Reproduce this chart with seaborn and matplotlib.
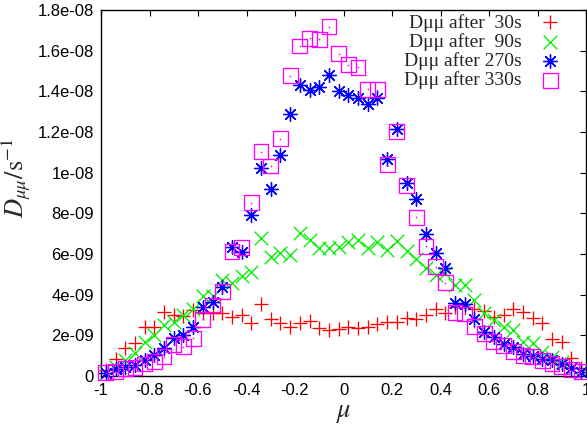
import matplotlib
matplotlib.use("Agg")
import matplotlib.pyplot as plt
import seaborn as sns
import pandas as pd

# mu bin centres
mu = [-0.98, -0.94, -0.90, -0.86, -0.82, -0.78, -0.74, -0.70, -0.66, -0.62,
      -0.58, -0.54, -0.50, -0.46, -0.42, -0.38, -0.34, -0.30, -0.26, -0.22,
      -0.18, -0.14, -0.10, -0.06, -0.02, 0.02, 0.06, 0.10, 0.14, 0.18,
      0.22, 0.26, 0.30, 0.34, 0.38, 0.42, 0.46, 0.50, 0.54, 0.58,
      0.62, 0.66, 0.70, 0.74, 0.78, 0.82, 0.86, 0.90, 0.94, 0.98]

# D_mumu values in units of 1e-9 s^-1
d30 = [0.30, 0.85, 1.40, 1.62, 2.42, 2.42, 3.16, 3.00, 2.95, 3.25,
       3.08, 3.10, 3.11, 2.88, 3.02, 2.60, 3.55, 2.79, 2.62, 2.42,
       2.62, 2.72, 2.35, 2.26, 2.30, 2.43, 2.35, 2.43, 2.56, 2.67,
       2.67, 2.84, 2.79, 3.00, 3.30, 3.10, 3.38, 3.40, 3.28, 3.20,
       2.90, 3.00, 3.30, 3.16, 2.86, 2.63, 1.80, 1.65, 0.90, 0.40]
d90 = [0.16, 0.46, 0.79, 1.12, 1.69, 2.02, 2.51, 2.67, 3.00, 3.28,
       3.93, 3.93, 4.72, 4.59, 4.92, 5.10, 6.77, 5.87, 6.07, 5.95,
       7.05, 6.69, 6.28, 6.28, 6.36, 6.61, 6.69, 6.28, 6.61, 6.20,
       6.65, 6.15, 5.75, 5.30, 4.95, 5.05, 4.50, 4.50, 3.75, 3.10,
       2.75, 2.40, 2.25, 1.65, 1.60, 1.20, 0.95, 0.70, 0.40, 0.20]
d270 = [0.16, 0.33, 0.43, 0.54, 0.79, 1.03, 1.36, 1.85, 2.02, 2.40,
        3.38, 3.66, 4.36, 6.36, 6.08, 7.92, 10.25, 9.20, 10.87, 12.90,
        14.30, 14.07, 14.20, 14.80, 14.00, 13.80, 13.66, 13.40, 13.66, 10.66,
        12.15, 9.48, 8.69, 7.00, 6.07, 5.30, 3.58, 3.54, 2.79, 2.18,
        1.93, 1.57, 1.41, 1.08, 1.00, 0.82, 0.79, 0.59, 0.38, 0.21]
d330 = [0.16, 0.20, 0.38, 0.40, 0.59, 0.72, 0.95, 1.55, 1.45, 1.85,
        2.79, 3.49, 4.15, 6.11, 6.33, 8.52, 11.03, 10.33, 11.67, 14.76,
        16.23, 16.60, 16.56, 17.18, 15.84, 15.30, 15.18, 14.10, 14.07, 10.38,
        12.02, 9.35, 7.80, 6.39, 5.38, 4.59, 3.11, 3.05, 2.43, 2.07,
        1.69, 1.48, 1.20, 1.03, 0.95, 0.75, 0.62, 0.46, 0.30, 0.21]

labels = ["D\u03bc\u03bc after  30s", "D\u03bc\u03bc after  90s",
          "D\u03bc\u03bc after 270s", "D\u03bc\u03bc after 330s"]
colors = ["#ff0000", "#00ee00", "#0000ff", "#ff00ff"]

xticks = [-1, -0.8, -0.6, -0.4, -0.2, 0, 0.2, 0.4, 0.6, 0.8, 1]
xticklabels = ["-1", "-0.8", "-0.6", "-0.4", "-0.2", "0", "0.2", "0.4", "0.6", "0.8", "1"]
yticks_e9 = [0, 2, 4, 6, 8, 10, 12, 14, 16, 18]
yticklabels = ["0", "2e-09", "4e-09", "6e-09", "8e-09", "1e-08",
               "1.2e-08", "1.4e-08", "1.6e-08", "1.8e-08"]

scale = 1e-9
df = pd.DataFrame({"mu": mu,
                   "d30": [v * scale for v in d30],
                   "d90": [v * scale for v in d90],
                   "d270": [v * scale for v in d270],
                   "d330": [v * scale for v in d330]})

sns.set_style("white")
plt.rcParams["font.family"] = ["Liberation Sans", "DejaVu Sans"]
plt.rcParams["mathtext.fontset"] = "stix"

fig = plt.figure(figsize=(5.87, 4.26), dpi=100)
ax = fig.add_axes([101 / 587, 1 - 376 / 426, 485 / 587, 366 / 426])

lw = 0.95
sns.scatterplot(data=df, x="mu", y="d30", marker="+", color=colors[0], s=95,
                linewidth=lw, label=labels[0], ax=ax, clip_on=False, zorder=3)
sns.scatterplot(data=df, x="mu", y="d90", marker="x", color=colors[1], s=95,
                linewidth=lw, label=labels[1], ax=ax, clip_on=False, zorder=4)
sns.scatterplot(data=df, x="mu", y="d270", marker=(8, 2, 0), color=colors[2], s=100,
                linewidth=lw, label=labels[2], ax=ax, clip_on=False, zorder=5)
sns.scatterplot(data=df, x="mu", y="d330", marker="s", color=colors[3], s=115,
                facecolor="none", edgecolor=colors[3], linewidth=lw,
                label=labels[3], ax=ax, clip_on=False, zorder=6)
# small centre dot inside each square (as in the reference)
sns.scatterplot(data=df, x="mu", y="d330", marker="o", color=colors[3], s=1.5,
                linewidth=0, ax=ax, clip_on=False, zorder=6)

ax.set_xlim(-1, 1)
ax.set_ylim(0, 18e-9)
ax.set_xticks(xticks)
ax.set_xticklabels(xticklabels)
ax.set_yticks([v * scale for v in yticks_e9])
ax.set_yticklabels(yticklabels)
ax.tick_params(direction="in", length=4, width=0.8, top=True, right=True,
               labelsize=12, pad=5, colors="black")
for sp in ax.spines.values():
    sp.set_visible(True)
    sp.set_color("black")
    sp.set_linewidth(1.0)

ax.set_xlabel(r"$\mu$", fontsize=19, labelpad=2)
ax.set_ylabel(r"$D_{\mu\mu}/\mathrm{s}^{-1}$", fontsize=19)
ax.yaxis.set_label_coords(-0.14, 0.54)

handles, lbls = ax.get_legend_handles_labels()
leg = ax.legend(handles[:4], lbls[:4], loc="upper right",
                bbox_to_anchor=(0.966, 0.99), frameon=False,
                markerfirst=False, borderpad=0, borderaxespad=0,
                handlelength=2.0, handletextpad=0.45, labelspacing=0.07,
                prop={"family": ["Liberation Serif", "DejaVu Serif"], "size": 14})

fig.savefig("out.png", dpi=100)
